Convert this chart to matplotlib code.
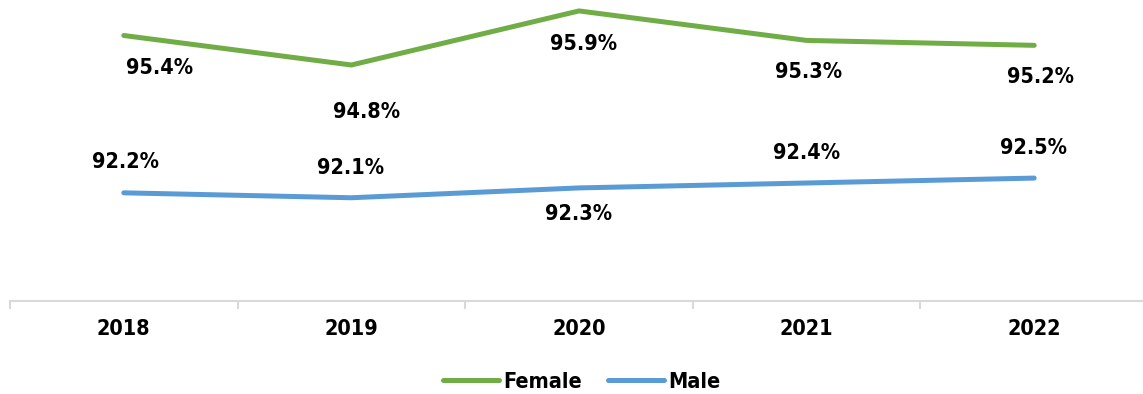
import matplotlib
matplotlib.use('Agg')
import matplotlib.pyplot as plt
from matplotlib import font_manager

years = ['2018', '2019', '2020', '2021', '2022']
female = [95.4, 94.8, 95.9, 95.3, 95.2]
male = [92.2, 92.1, 92.3, 92.4, 92.5]

# label offsets in pixels (dx, dy), as placed in the original
female_off = [(36, -32), (15, -47), (5, -33), (2, -32), (6, -32)]
male_off = [(2, 31), (-1, 30), (0, -26), (0, 30), (-1, 30)]

fonts = font_manager.fontManager.ttflist
names = {f.name for f in fonts}
condensed = [f for f in fonts if f.name == 'DejaVu Sans' and f.stretch in ('condensed', 'semi-condensed')]
if 'Liberation Sans Narrow' in names:
    plt.rcParams['font.family'] = ['Liberation Sans Narrow', 'DejaVu Sans']
else:
    plt.rcParams['font.family'] = ['DejaVu Sans']
    if condensed:
        plt.rcParams['font.stretch'] = 'condensed'
plt.rcParams['font.weight'] = 'bold'

GREEN = '#70AD47'
BLUE = '#5B9BD5'
W, H = 1143, 394
FS = 15.5

fig = plt.figure(figsize=(W / 100, H / 100), dpi=100)
ax = fig.add_axes([10 / W, (H - 301) / H, 1138 / W, 295 / H])

x = list(range(len(years)))
ax.plot(x, female, color=GREEN, lw=3.6, label='Female', solid_capstyle='round', solid_joinstyle='round')
ax.plot(x, male, color=BLUE, lw=3.6, label='Male', solid_capstyle='round', solid_joinstyle='round')

for i, v in enumerate(female):
    ax.annotate(f'{v:.1f}%', (i, v), xytext=female_off[i], textcoords='offset pixels',
                ha='center', va='center', fontsize=FS, fontweight='bold')
for i, v in enumerate(male):
    ax.annotate(f'{v:.1f}%', (i, v), xytext=male_off[i], textcoords='offset pixels',
                ha='center', va='center', fontsize=FS, fontweight='bold')

ax.set_xlim(-0.5, len(years) - 0.5)
ax.set_ylim(90, 96)
ax.set_yticks([])
for s in ['top', 'right', 'left']:
    ax.spines[s].set_visible(False)
ax.spines['bottom'].set_color('#D9D9D9')
ax.spines['bottom'].set_linewidth(1.5)

ax.set_xticks(x)
ax.set_xticklabels(years, fontsize=FS, fontweight='bold')
ax.tick_params(axis='x', which='major', length=0, pad=13)
ax.set_xticks([i - 0.5 for i in range(len(years) + 1)], minor=True)
ax.tick_params(axis='x', which='minor', length=6, width=1.5, color='#D9D9D9', direction='out')

leg = ax.legend(loc='center', ncol=2, frameon=False, fontsize=FS, handlelength=2.6,
                handletextpad=0.2, columnspacing=1.2)
leg.set_bbox_to_anchor((582 / W, 12 / H), transform=fig.transFigure)
for t in leg.get_texts():
    t.set_fontweight('bold')

fig.savefig('out.png', dpi=100)
